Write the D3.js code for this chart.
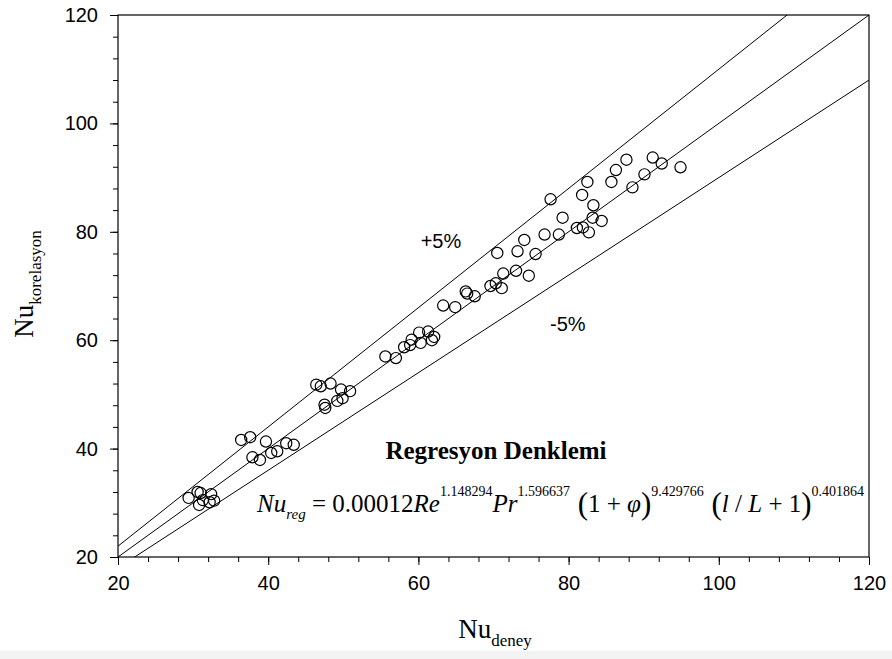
<!DOCTYPE html>
<html>
<head>
<meta charset="utf-8">
<script src="https://cdn.jsdelivr.net/npm/d3@7"></script>
<style>
  html, body { margin: 0; padding: 0; background: #fff; }
  svg { display: block; }
</style>
</head>
<body>
<svg id="chart" width="892" height="659"></svg>
<script>
// Experimental Nusselt numbers (x) vs. correlation predictions (y)
const nuDeney = [
  29.4, 30.6, 31.0, 31.3, 30.8, 32.4, 32.8, 32.2,
  36.4, 37.6, 37.9, 38.9, 39.7, 40.4, 41.2, 42.4, 43.4,
  46.4, 47.0, 48.3, 47.5, 47.6, 49.7, 49.9, 49.2, 50.9,
  55.6, 57.0, 58.1, 59.1, 58.9, 60.1, 60.3, 61.3, 61.8, 62.1,
  63.3, 64.9, 66.3, 66.5, 67.5, 69.6, 70.3, 71.1, 71.3, 70.5,
  73.0, 74.7, 73.2, 74.1, 75.6, 76.8, 78.7, 79.2, 77.6,
  81.1, 81.9, 82.7, 81.8, 82.5, 83.3, 83.2, 84.4,
  85.7, 86.3, 87.7, 88.5, 90.1, 91.2, 92.4, 94.9
];
const nuKorelasyon = [
  30.9, 32.0, 31.8, 30.5, 29.6, 31.6, 30.4, 30.1,
  41.6, 42.1, 38.4, 37.9, 41.3, 39.2, 39.5, 41.0, 40.7,
  51.8, 51.5, 52.0, 48.1, 47.5, 50.9, 49.3, 48.8, 50.6,
  57.0, 56.7, 58.7, 60.1, 59.1, 61.4, 59.5, 61.6, 60.0, 60.6,
  66.4, 66.1, 69.0, 68.6, 68.1, 70.0, 70.5, 69.6, 72.3, 76.1,
  72.8, 71.9, 76.4, 78.5, 75.9, 79.5, 79.5, 82.6, 86.0,
  80.7, 80.8, 79.9, 86.8, 89.2, 84.9, 82.6, 82.0,
  89.2, 91.4, 93.3, 88.2, 90.6, 93.7, 92.6, 91.9
];

// Reference lines y = k·x (upper band, perfect agreement, lower band)
const bandFactors = [1.1, 1.0, 0.9];
const bandLabels = ["+5%", "-5%"];

const majorTicks = [20, 40, 60, 80, 100, 120];
const minorTicks = d3.range(20, 120.1, 4);

const svg = d3.select("#chart");
const W = 892, H = 659;
const plot = { left: 118, right: 869, top: 15, bottom: 557 };

const x = d3.scaleLinear().domain([20, 120]).range([plot.left, plot.right]);
const y = d3.scaleLinear().domain([20, 120]).range([plot.bottom, plot.top]);

// faint strip along the bottom edge of the page
svg.append("rect").attr("x", 0).attr("y", 651).attr("width", W).attr("height", 8)
  .attr("fill", "#f3f3f3");

svg.append("clipPath").attr("id", "plotClip")
  .append("rect")
  .attr("x", plot.left).attr("y", plot.top)
  .attr("width", plot.right - plot.left).attr("height", plot.bottom - plot.top);

// axes with major and minor ticks
const tickFont = "'Liberation Sans', Arial, sans-serif";

const xAxisMinor = d3.axisBottom(x).tickValues(minorTicks).tickSize(5).tickFormat("");
const xAxisMajor = d3.axisBottom(x).tickValues(majorTicks).tickSize(8).tickPadding(11).tickFormat(d3.format("d"));
const yAxisMinor = d3.axisLeft(y).tickValues(minorTicks).tickSize(5).tickFormat("");
const yAxisMajor = d3.axisLeft(y).tickValues(majorTicks).tickSize(8).tickPadding(12).tickFormat(d3.format("d"));

function styleAxis(g) {
  g.selectAll("path.domain").remove();
  g.selectAll("line").attr("stroke", "#000").attr("stroke-width", 1);
  g.selectAll("text").attr("fill", "#000")
    .style("font-family", tickFont).style("font-size", "20px");
}

svg.append("g").attr("transform", `translate(0,${plot.bottom})`).call(xAxisMinor).call(styleAxis);
svg.append("g").attr("transform", `translate(0,${plot.bottom})`).call(xAxisMajor).call(styleAxis);
svg.append("g").attr("transform", `translate(${plot.left},0)`).call(yAxisMinor).call(styleAxis);
svg.append("g").attr("transform", `translate(${plot.left},0)`).call(yAxisMajor).call(styleAxis);

// reference lines
const lineGen = d3.line().x(d => x(d[0])).y(d => y(d[1]));
svg.append("g").attr("clip-path", "url(#plotClip)")
  .selectAll("path").data(bandFactors).join("path")
  .attr("d", k => lineGen([[20, 20 * k], [120, 120 * k]]))
  .attr("fill", "none").attr("stroke", "#000").attr("stroke-width", 1);

// data points
const points = nuDeney.map((v, i) => [v, nuKorelasyon[i]]);
svg.append("g").selectAll("circle").data(points).join("circle")
  .attr("cx", d => x(d[0])).attr("cy", d => y(d[1])).attr("r", 5.6)
  .attr("fill", "none").attr("stroke", "#000").attr("stroke-width", 1.2);

// plot frame
svg.append("rect")
  .attr("x", plot.left).attr("y", plot.top)
  .attr("width", plot.right - plot.left).attr("height", plot.bottom - plot.top)
  .attr("fill", "none").attr("stroke", "#000").attr("stroke-width", 1.2);

// band labels
const bandLabelPos = [[63.0, 77.0], [79.9, 61.7]];
svg.append("g").selectAll("text").data(bandLabels).join("text")
  .attr("x", (d, i) => x(bandLabelPos[i][0]))
  .attr("y", (d, i) => y(bandLabelPos[i][1]))
  .attr("text-anchor", "middle")
  .style("font-family", tickFont).style("font-size", "20px")
  .attr("fill", "#000")
  .text(d => d);

// axis titles
const serif = "'Liberation Serif', 'Times New Roman', serif";

const xt = svg.append("text").attr("x", 495).attr("y", 638)
  .attr("text-anchor", "middle").style("font-family", serif).attr("fill", "#000");
xt.append("tspan").style("font-size", "27px").text("Nu");
xt.append("tspan").style("font-size", "17px").attr("dy", 8).text("deney");

const yt = svg.append("text").attr("transform", "translate(33,284) rotate(-90)")
  .attr("text-anchor", "middle").style("font-family", serif).attr("fill", "#000");
yt.append("tspan").style("font-size", "27px").text("Nu");
yt.append("tspan").style("font-size", "17px").attr("dy", 8).text("korelasyon");

// regression equation block
svg.append("text").attr("x", 496).attr("y", 459).attr("text-anchor", "middle")
  .style("font-family", serif).style("font-size", "25px").style("font-weight", "bold")
  .attr("fill", "#000").text("Regresyon Denklemi");

const eqSegments = [
  { t: "Nu", it: true },
  { t: "reg", it: true, size: 15, dy: 7 },
  { t: " = 0.00012", dy: -7 },
  { t: "Re", it: true },
  { t: "1.148294", size: 14, dy: -16 },
  { t: "Pr", it: true, dy: 16 },
  { t: "1.596637", size: 14, dy: -16 },
  { t: " (", size: 31, dy: 18 },
  { t: "1 + ", dy: -2 },
  { t: "φ", it: true },
  { t: ")", size: 31, dy: 2 },
  { t: "9.429766", size: 14, dy: -18 },
  { t: " (", size: 31, dy: 18 },
  { t: "l", it: true, dy: -2 },
  { t: " / " },
  { t: "L", it: true },
  { t: " + 1" },
  { t: ")", size: 31, dy: 2 },
  { t: "0.401864", size: 14, dy: -18 }
];
const eq = svg.append("text").attr("x", 257).attr("y", 512)
  .style("font-family", serif).style("font-size", "25px").attr("fill", "#000")
  .attr("xml:space", "preserve");
eqSegments.forEach(s => {
  const ts = eq.append("tspan").text(s.t);
  if (s.it) ts.style("font-style", "italic");
  if (s.size) ts.style("font-size", s.size + "px");
  if (s.dy) ts.attr("dy", s.dy);
});
</script>
</body>
</html>
